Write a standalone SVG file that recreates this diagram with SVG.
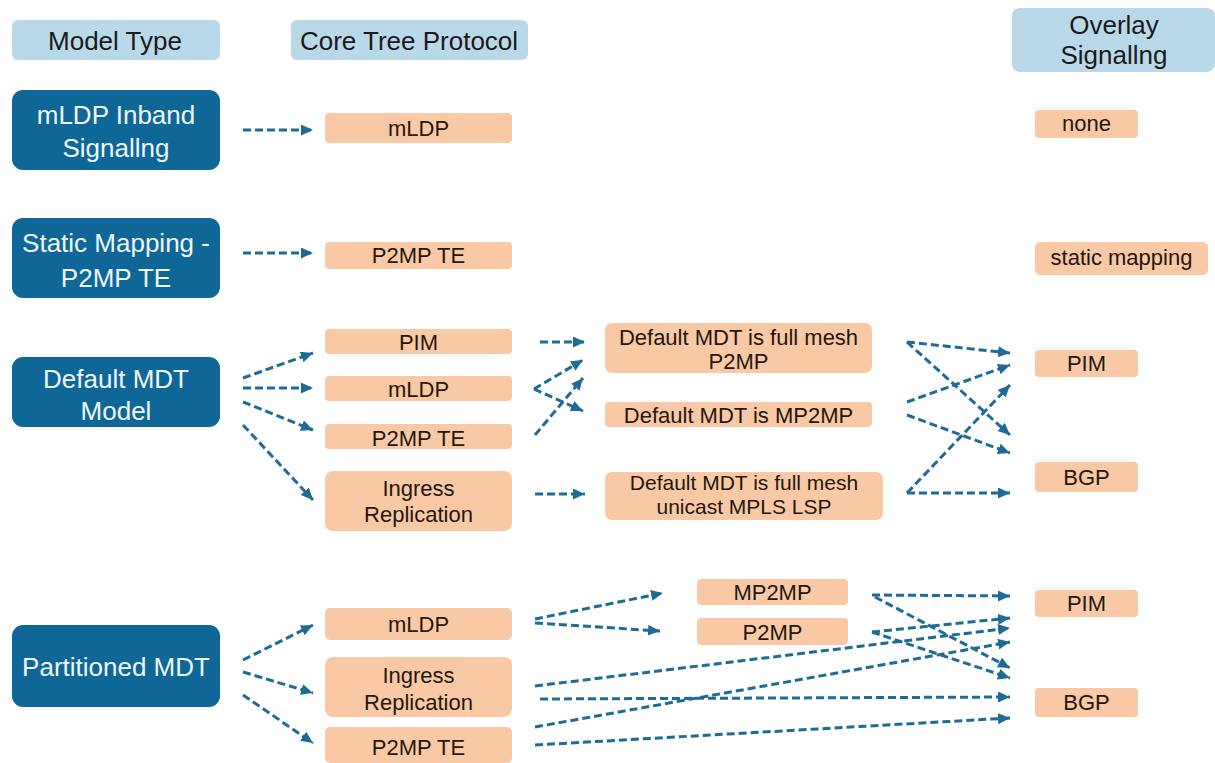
<svg xmlns="http://www.w3.org/2000/svg" width="1215" height="763" viewBox="0 0 1215 763">
<defs>
<marker id="ah" markerUnits="userSpaceOnUse" markerWidth="13" markerHeight="12" refX="12" refY="5.5" orient="auto">
<path d="M0,0 L12,5.5 L0,11 z" fill="#1e6c95"/>
</marker>
<style>
.hdr rect{fill:#b9d9e9}
.hdr text{font-family:"Liberation Sans",Arial,sans-serif;font-size:26px;fill:#1a1a1a;text-anchor:middle}
.mdl rect{fill:#0f6797}
.mdl text{font-family:"Liberation Sans",Arial,sans-serif;font-size:26px;fill:#eef6fa;text-anchor:middle}
.box rect{fill:#f9c9a5}
.box text{font-family:"Liberation Sans",Arial,sans-serif;font-size:22px;fill:#24170e;text-anchor:middle}
#connectors line{stroke:#1e6c95;stroke-width:3;stroke-dasharray:8 4;fill:none;marker-end:url(#ah)}
</style>
</defs>
<rect width="1215" height="763" fill="#ffffff"/>

<g id="hdr-model" class="hdr"><rect x="12" y="20" width="208" height="40" rx="6"/><text x="115" y="50">Model Type</text></g>
<g id="hdr-core" class="hdr"><rect x="291" y="20" width="237" height="40" rx="6"/><text x="409" y="50">Core Tree Protocol</text></g>
<g id="hdr-overlay" class="hdr"><rect x="1012" y="8" width="203" height="64" rx="8"/><text x="1114" y="34">Overlay</text><text x="1114" y="64">Signallng</text></g>

<g id="m-inband" class="mdl"><rect x="12" y="90" width="208" height="80" rx="11"/><text x="116" y="124">mLDP Inband</text><text x="116" y="157">Signallng</text></g>
<g id="m-static" class="mdl"><rect x="12" y="218" width="208" height="80" rx="11"/><text x="116" y="252">Static Mapping -</text><text x="116" y="287">P2MP TE</text></g>
<g id="m-default" class="mdl"><rect x="12" y="357" width="208" height="70" rx="11"/><text x="116" y="388">Default MDT</text><text x="116" y="420">Model</text></g>
<g id="m-part" class="mdl"><rect x="12" y="625" width="208" height="82" rx="11"/><text x="116" y="676">Partitioned MDT</text></g>

<g id="c-mldp1" class="box"><rect x="325" y="113" width="187" height="30" rx="4"/><text x="418.5" y="136">mLDP</text></g>
<g id="c-p2mpte1" class="box"><rect x="325" y="242" width="187" height="27" rx="4"/><text x="418.5" y="263">P2MP TE</text></g>
<g id="c-pim" class="box"><rect x="325" y="329" width="187" height="25" rx="4"/><text x="418.5" y="350">PIM</text></g>
<g id="c-mldp2" class="box"><rect x="325" y="376" width="187" height="25" rx="4"/><text x="418.5" y="397">mLDP</text></g>
<g id="c-p2mpte2" class="box"><rect x="325" y="424" width="187" height="25" rx="4"/><text x="418.5" y="446">P2MP TE</text></g>
<g id="c-ir1" class="box"><rect x="325" y="471" width="187" height="60" rx="8"/><text x="418.5" y="496">Ingress</text><text x="418.5" y="522">Replication</text></g>
<g id="c-mldp3" class="box"><rect x="325" y="608" width="187" height="32" rx="5"/><text x="418.5" y="632">mLDP</text></g>
<g id="c-ir2" class="box"><rect x="325" y="657" width="187" height="60" rx="8"/><text x="418.5" y="683">Ingress</text><text x="418.5" y="710">Replication</text></g>
<g id="c-p2mpte3" class="box"><rect x="325" y="727" width="187" height="36" rx="5"/><text x="418.5" y="755">P2MP TE</text></g>

<g id="d-fullmesh" class="box"><rect x="605" y="323" width="267" height="50" rx="7"/><text x="738.5" y="345">Default MDT is full mesh</text><text x="738.5" y="369">P2MP</text></g>
<g id="d-mp2mp" class="box"><rect x="605" y="402" width="267" height="25" rx="4"/><text x="738.5" y="423">Default MDT is MP2MP</text></g>
<g id="d-unicast" class="box"><rect x="605" y="472" width="278" height="48" rx="7"/><text x="744" y="490" style="font-size:21px">Default MDT is full mesh</text><text x="744" y="514" style="font-size:21px">unicast MPLS LSP</text></g>
<g id="p-mp2mp" class="box"><rect x="697" y="579" width="151" height="26" rx="4"/><text x="772.5" y="600">MP2MP</text></g>
<g id="p-p2mp" class="box"><rect x="697" y="618" width="151" height="27" rx="4"/><text x="772.5" y="640">P2MP</text></g>

<g id="o-none" class="box"><rect x="1035" y="110" width="103" height="28" rx="4"/><text x="1086.5" y="131">none</text></g>
<g id="o-static" class="box"><rect x="1035" y="242" width="173" height="33" rx="5"/><text x="1121.5" y="265">static mapping</text></g>
<g id="o-pim1" class="box"><rect x="1035" y="350" width="103" height="27" rx="4"/><text x="1086.5" y="371">PIM</text></g>
<g id="o-bgp1" class="box"><rect x="1035" y="462" width="103" height="30" rx="4"/><text x="1086.5" y="485">BGP</text></g>
<g id="o-pim2" class="box"><rect x="1035" y="590" width="103" height="27" rx="4"/><text x="1086.5" y="611">PIM</text></g>
<g id="o-bgp2" class="box"><rect x="1035" y="688" width="103" height="29" rx="4"/><text x="1086.5" y="710">BGP</text></g>

<g id="connectors">
<line x1="243" y1="130" x2="313" y2="130"/>
<line x1="243" y1="253" x2="313" y2="253"/>
<line x1="243" y1="378" x2="313" y2="353"/>
<line x1="243" y1="388" x2="313" y2="388"/>
<line x1="243" y1="402" x2="313" y2="430"/>
<line x1="243" y1="425" x2="313" y2="500"/>
<line x1="540" y1="342" x2="585" y2="342"/>
<line x1="534" y1="389" x2="583" y2="360"/>
<line x1="534" y1="389" x2="583" y2="411"/>
<line x1="535" y1="435" x2="583" y2="378"/>
<line x1="535" y1="494" x2="585" y2="494"/>
<line x1="907" y1="342" x2="1010" y2="353"/>
<line x1="907" y1="342" x2="1010" y2="435"/>
<line x1="907" y1="402" x2="1010" y2="365"/>
<line x1="907" y1="415" x2="1010" y2="453"/>
<line x1="907" y1="493" x2="1010" y2="385"/>
<line x1="907" y1="493" x2="1010" y2="493"/>
<line x1="243" y1="660" x2="313" y2="625"/>
<line x1="243" y1="672" x2="313" y2="693"/>
<line x1="243" y1="695" x2="313" y2="743"/>
<line x1="535" y1="619" x2="663" y2="593"/>
<line x1="535" y1="623" x2="660" y2="631"/>
<line x1="872" y1="595" x2="1010" y2="596"/>
<line x1="875" y1="597" x2="1010" y2="668"/>
<line x1="872" y1="632" x2="1010" y2="618"/>
<line x1="872" y1="632" x2="1010" y2="678"/>
<line x1="535" y1="686" x2="1010" y2="628"/>
<line x1="540" y1="699" x2="1010" y2="697"/>
<line x1="535" y1="727" x2="1010" y2="642"/>
<line x1="535" y1="745" x2="1010" y2="718"/>
</g>
</svg>
